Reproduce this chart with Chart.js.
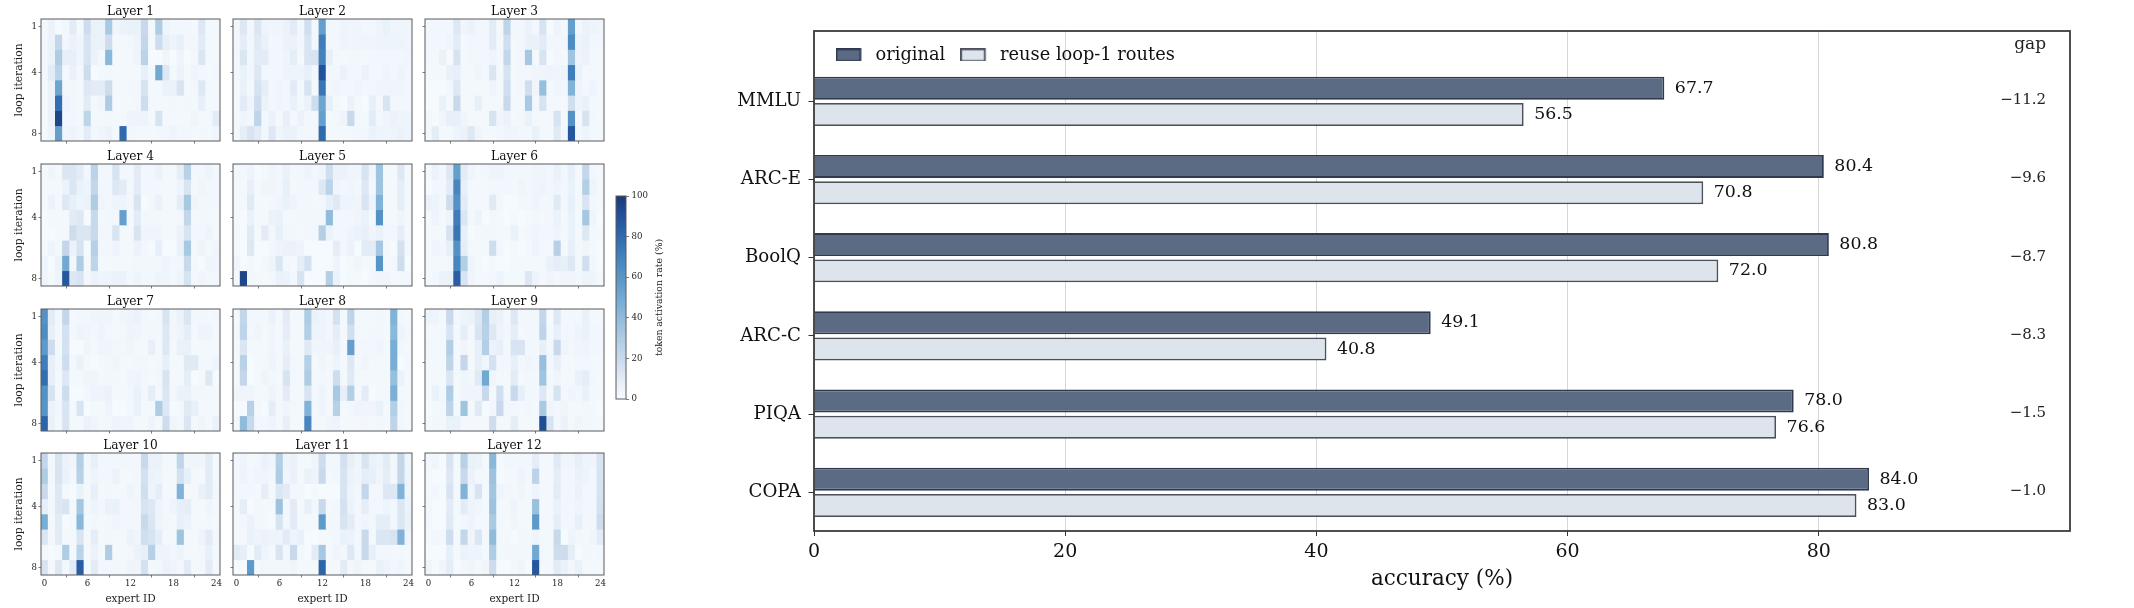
<!DOCTYPE html>
<html><head><meta charset="utf-8">
<style>html,body{margin:0;padding:0;background:#fff;width:2134px;height:608px;overflow:hidden}
canvas{position:absolute;display:block}</style>
<script src="https://cdn.jsdelivr.net/npm/chart.js@4"></script>
</head><body>
<script>
const layer1=[[3,6,1,3,10,2,18,7,6,32,4,6,7,7,20,2,30,5,3,3,3,2,12,2,2],[3,6,22,3,6,4,15,7,6,18,2,2,3,5,22,2,18,8,5,8,3,3,10,2,2],[3,6,30,8,8,4,15,6,3,42,2,2,2,5,25,1,1,4,1,5,1,3,13,2,2],[3,10,25,2,7,2,18,1,2,3,2,2,2,2,8,2,50,12,2,6,2,4,3,2,3],[2,6,52,3,3,2,12,10,10,18,2,2,3,3,15,2,2,6,6,14,2,3,12,2,2],[2,6,78,5,3,2,10,2,4,30,2,2,2,3,18,2,2,2,3,2,3,2,8,2,2],[2,6,95,3,3,2,24,2,2,3,2,2,5,5,5,2,15,2,2,2,2,4,2,3,10],[2,5,55,4,5,3,10,3,4,6,2,80,3,2,2,2,3,3,5,3,3,2,3,2,4]];
const layer2=[[3,12,3,13,5,4,4,6,10,3,17,3,55,3,3,5,4,4,3,3,5,7,4,4,4],[3,9,3,11,7,3,3,6,6,3,14,3,72,3,3,5,4,4,4,4,5,5,5,5,4],[3,13,3,10,10,3,3,5,9,2,14,14,70,8,2,2,3,3,2,3,3,3,3,3,4],[3,7,3,12,3,3,3,5,5,5,8,3,90,3,3,6,3,3,6,3,3,4,3,5,3],[2,7,2,15,9,3,4,3,10,2,15,2,75,3,4,3,3,4,3,3,4,4,4,4,3],[2,10,4,18,6,3,4,3,7,2,6,18,52,8,2,1,6,2,1,8,2,14,3,3,3],[2,4,3,24,3,6,2,8,2,6,3,3,55,2,3,5,20,3,2,10,3,4,6,5,5],[3,9,14,10,3,12,4,6,6,3,3,3,80,2,2,2,2,3,3,6,5,4,5,6,5]];
const layer3=[[3,3,3,3,12,4,6,3,3,10,2,24,3,3,6,3,15,1,5,2,55,3,6,5,4],[3,3,3,4,10,2,3,3,3,10,2,17,2,3,7,7,10,3,3,3,65,5,7,3,3],[3,2,7,1,15,2,3,3,3,5,2,22,2,3,33,2,14,1,3,2,35,5,6,2,2],[2,2,2,7,8,2,2,4,3,13,2,15,2,3,3,4,4,5,4,5,72,7,2,2,2],[1,1,1,3,12,2,2,2,2,5,2,17,2,3,17,4,38,2,4,3,45,5,2,5,2],[1,1,7,2,20,2,2,8,2,2,2,20,2,2,32,3,15,2,2,2,17,5,7,2,2],[3,1,4,8,8,4,2,2,2,15,4,6,2,3,7,2,2,2,15,2,62,2,15,3,2],[2,9,2,2,5,6,12,4,2,2,3,4,4,3,3,7,2,2,11,3,88,3,5,2,2]];
const layer4=[[2,4,2,13,13,10,3,25,3,3,15,3,3,10,3,3,6,2,2,9,26,3,3,5,3],[2,2,2,6,13,7,5,22,3,3,12,10,3,10,3,3,3,2,2,5,14,2,4,3,3],[2,6,2,12,8,5,6,30,4,3,5,5,3,14,1,3,7,2,2,9,32,4,3,3,3],[1,2,2,2,10,12,1,20,2,3,3,55,2,10,3,3,3,2,2,3,22,2,3,2,2],[1,1,2,2,18,13,13,20,3,3,14,2,2,14,4,4,4,2,2,6,14,3,3,5,2],[2,5,2,22,6,15,1,27,3,3,5,2,2,6,3,1,8,1,1,7,32,2,5,2,4],[5,1,6,50,3,30,2,24,2,2,2,2,2,3,3,3,3,5,3,3,20,2,1,4,4],[5,2,5,88,12,14,3,6,5,5,6,6,3,5,3,3,5,4,2,5,15,3,4,3,3]];
const layer5=[[3,3,5,1,2,4,3,7,3,3,5,3,4,17,6,6,4,4,15,4,35,2,2,12,2],[2,2,8,2,4,4,3,8,2,3,3,3,12,25,4,3,4,3,12,3,35,2,2,9,2],[2,2,11,2,2,3,4,7,5,3,3,2,3,8,11,5,5,4,14,5,45,2,2,9,2],[2,1,7,2,2,6,7,2,2,3,3,3,3,40,3,3,3,4,7,2,62,2,2,4,2],[3,1,11,2,10,3,8,3,3,2,3,3,28,6,3,3,5,6,8,4,7,3,3,9,2],[2,1,12,1,1,3,5,6,6,5,1,1,1,1,9,3,6,1,10,10,33,2,1,16,2],[4,1,2,1,2,5,13,3,2,9,16,1,1,1,5,1,2,4,2,2,60,2,3,18,1],[2,95,3,2,2,3,7,6,3,15,1,1,1,28,6,1,2,2,1,3,4,4,2,3,3]];
const layer6=[[2,6,3,12,55,10,4,2,3,5,5,3,3,3,3,4,4,3,7,3,8,2,22,3,2],[1,3,3,10,68,8,2,2,2,3,3,3,2,4,3,4,5,3,5,3,7,2,28,5,2],[6,5,3,18,62,10,2,2,2,11,3,1,1,3,3,5,3,3,11,3,8,2,14,3,2],[2,5,2,5,72,13,2,5,1,3,2,1,2,1,2,3,2,3,6,2,7,2,33,4,1],[2,2,2,15,75,8,1,2,3,3,2,2,7,2,3,4,3,3,5,2,7,2,12,2,2],[2,4,3,8,62,9,2,2,2,18,3,1,2,1,2,5,3,2,27,2,8,2,4,2,1],[2,2,2,3,68,28,5,2,1,2,1,1,2,2,2,2,2,7,9,8,12,2,17,3,1],[2,3,6,7,85,14,4,2,2,3,5,2,2,2,12,5,2,4,3,4,4,3,5,4,2]];
const layer7=[[62,10,3,22,2,3,3,4,4,4,2,4,5,6,3,2,3,14,3,6,13,3,3,2,3],[65,8,2,16,2,5,4,3,5,3,2,3,5,4,3,3,3,12,3,5,9,2,5,5,2],[58,18,2,16,1,1,4,2,4,4,3,3,4,2,2,8,2,12,2,7,7,2,2,2,2],[72,8,3,18,2,6,2,1,2,3,4,2,2,3,3,2,3,8,2,2,11,11,3,2,5],[78,8,2,12,2,2,4,4,2,3,3,2,4,5,3,2,3,14,2,2,9,1,2,12,1],[62,15,2,18,1,1,3,5,5,6,2,2,3,7,3,9,2,13,3,6,7,3,3,2,2],[60,6,3,14,2,14,1,2,2,5,1,1,2,7,2,2,30,12,1,2,11,8,2,2,2],[82,7,2,14,2,2,6,4,2,3,5,4,5,2,2,5,2,18,4,3,13,2,4,2,6]];
const layer8=[[2,22,3,3,3,6,2,10,2,2,30,6,5,3,16,2,24,2,2,2,3,2,45,3,2],[3,24,3,4,2,4,2,9,2,2,28,5,5,3,9,2,17,3,2,3,3,2,42,5,3],[2,13,2,2,2,4,2,7,2,2,11,4,4,4,8,2,55,3,3,3,4,2,48,3,2],[2,26,1,2,2,5,2,9,3,2,27,2,4,2,5,2,12,2,4,2,2,2,48,1,3],[2,22,1,2,5,3,2,15,3,2,30,2,3,2,18,2,11,2,2,2,2,2,38,6,2],[4,4,4,2,2,5,2,10,2,2,14,3,5,2,32,8,28,2,10,1,2,2,47,2,2],[1,1,26,2,1,9,2,4,3,2,45,3,5,2,27,2,3,5,4,4,7,2,28,3,2],[2,40,20,3,3,5,2,8,2,2,68,3,2,4,5,2,2,2,3,2,3,2,24,3,2]];
const layer9=[[5,5,2,20,3,5,6,12,28,8,6,2,12,3,3,3,22,1,12,3,3,3,7,2,2],[2,2,2,14,2,9,3,14,26,12,5,3,9,2,3,3,24,2,8,3,3,5,7,3,3],[3,2,2,28,2,4,2,8,28,6,8,2,14,14,3,3,8,3,20,4,3,4,5,3,3],[2,2,2,24,2,22,2,8,4,16,3,3,8,3,4,3,38,3,8,2,2,3,3,2,2],[2,2,2,13,2,4,3,11,50,4,2,2,10,2,3,3,35,2,4,2,2,7,9,3,2],[2,7,3,30,2,4,4,4,20,2,17,2,20,8,3,3,12,2,15,2,4,3,7,2,2],[1,2,3,24,2,35,2,11,1,3,20,3,3,2,3,2,32,4,3,4,2,2,3,2,1],[2,3,2,7,7,2,2,2,2,18,2,2,9,2,2,2,92,15,3,6,2,4,3,2,2]];
const layer10=[[22,3,14,6,4,28,3,8,3,3,3,3,3,3,20,6,6,2,2,23,4,4,4,10,2],[30,3,14,7,3,26,3,5,3,3,6,2,2,3,16,6,5,2,2,16,8,2,2,10,2],[20,2,12,2,1,7,2,8,2,3,2,2,5,3,17,5,9,2,2,45,2,2,7,10,3],[8,3,12,14,2,33,3,5,3,7,7,3,3,3,14,12,5,2,5,8,9,2,2,4,2],[48,2,10,1,2,42,2,3,2,3,4,3,3,3,20,13,5,3,2,8,6,2,2,3,2],[13,2,10,2,2,14,2,9,2,3,2,2,6,4,17,15,9,2,2,35,2,2,5,10,3],[2,1,2,30,2,25,2,6,2,30,2,2,3,6,8,27,5,5,3,5,2,2,3,8,2],[14,2,12,2,10,85,2,10,3,3,3,3,5,4,16,2,3,6,5,3,10,2,3,10,2]];
const layer11=[[3,5,2,3,6,4,28,5,6,2,2,4,18,3,3,16,8,4,14,7,5,10,3,22,4],[3,5,3,4,4,3,30,4,7,2,7,5,20,2,3,15,6,4,9,8,4,9,3,22,5],[3,3,3,2,9,2,13,10,3,3,1,2,1,1,1,14,5,3,22,3,3,12,12,45,5],[2,9,1,3,2,2,36,3,10,2,8,3,20,2,3,16,6,3,9,3,3,5,3,13,6],[2,3,6,3,2,1,15,3,10,2,2,2,58,3,3,14,10,3,4,3,9,9,3,13,7],[2,2,7,5,6,5,5,10,5,7,1,1,2,2,3,7,6,3,20,2,13,13,14,45,4],[10,8,1,10,5,2,14,3,20,2,1,10,33,2,4,3,12,3,20,8,3,3,2,3,2],[1,1,58,2,3,3,3,3,4,2,2,2,82,2,2,10,3,5,2,2,7,5,3,4,2]];
const layer12=[[3,4,1,14,2,26,7,6,2,42,1,3,3,3,3,9,2,2,11,4,4,8,5,4,14],[2,1,1,12,2,20,6,2,2,36,1,2,2,5,3,25,2,2,9,3,3,6,5,3,14],[2,3,1,14,2,45,4,14,2,34,4,3,2,4,2,5,2,2,10,3,3,6,3,3,15],[3,1,1,10,2,10,5,4,2,36,2,2,5,2,2,37,2,2,7,3,3,4,3,3,16],[3,1,1,11,2,3,5,2,2,31,2,2,4,2,2,58,3,2,9,3,3,8,3,3,18],[2,3,2,18,2,22,4,13,2,40,2,2,1,3,3,5,2,2,20,1,5,3,2,4,10],[1,1,1,8,2,6,5,5,2,30,2,3,3,3,3,50,3,2,18,18,9,1,3,2,3],[4,1,4,9,1,3,4,2,4,18,1,1,3,4,1,88,2,2,10,6,3,7,2,2,2]];
const layers=[layer1,layer2,layer3,layer4,layer5,layer6,layer7,layer8,layer9,layer10,layer11,layer12];
const expertIds=Array.from({length:25},(_,i)=>String(i));
const expertTicks=[0,6,12,18,24];
const iterTicks=[1,4,8];
const cbarTicks=[0,20,40,60,80,100];
const cmapPos=[0,10,20,30,40,50,60,70,80,90,100];
const cmapRgb=[[247,251,255],[227,236,246],[200,217,236],[174,204,227],[144,188,220],[114,169,211],[88,149,199],[68,130,189],[47,105,174],[34,82,154],[26,58,117]];

const categories=['MMLU','ARC-E','BoolQ','ARC-C','PIQA','COPA'];
const originalAcc=[67.7,80.4,80.8,49.1,78.0,84.0];
const reuseAcc=[56.5,70.8,72.0,40.8,76.6,83.0];
const gapVals=[-11.2,-9.6,-8.7,-8.3,-1.5,-1.0];
const accTicks=[0,20,40,60,80];

const FONT='"DejaVu Serif"';
Chart.defaults.font.family=FONT;
Chart.defaults.animation=false;
Chart.defaults.responsive=false;
Chart.defaults.devicePixelRatio=1;

function mapColor(v){
  let i=0; while(i<cmapPos.length-2&&v>cmapPos[i+1])i++;
  const t=(v-cmapPos[i])/(cmapPos[i+1]-cmapPos[i]);
  const c=cmapRgb[i].map((a,k)=>Math.round(a+(cmapRgb[i+1][k]-a)*t));
  return `rgb(${c[0]},${c[1]},${c[2]})`;
}
function mkCanvas(l,t,w,h){
  const c=document.createElement('canvas');
  c.width=w;c.height=h;c.style.left=l+'px';c.style.top=t+'px';c.style.width=w+'px';c.style.height=h+'px';
  document.body.appendChild(c);return c;
}
const frame=(color,lw)=>({id:'frame',afterDraw(ch){const a=ch.chartArea,x=ch.ctx;x.save();x.strokeStyle=color;x.lineWidth=lw;x.strokeRect(a.left,a.top,a.right-a.left,a.bottom-a.top);x.restore();}});

// heatmap panels
const colX=[41,232.5,424.5], rowY=[19,164,309,453];
const PW=179,PH=122,ML=41,MT=15,MR=5,MB=31;
layers.forEach((m,idx)=>{
  const col=idx%3,row=Math.floor(idx/3);
  const left=Math.round(colX[col]-ML),top=rowY[row]-MT;
  const showX=row===3,showY=col===0;
  const datasets=m.map(r=>({data:r.map(()=>1),backgroundColor:r.map(mapColor),borderWidth:0,barPercentage:1,categoryPercentage:1}));
  new Chart(mkCanvas(left,top,ML+PW+MR,MT+PH+MB),{type:'bar',
    data:{labels:expertIds,datasets},
    options:{
      layout:{padding:{left:0,right:MR,top:0,bottom:0}},
      plugins:{legend:{display:false},tooltip:{enabled:false},
        title:{display:true,fullSize:false,text:'Layer '+(idx+1),color:'#111',font:{size:12.2,weight:'normal'},padding:{top:0.36,bottom:0}}},
      scales:{
        x:{stacked:true,grid:{drawOnChartArea:false,drawTicks:true,tickLength:2.5,tickColor:'#444',tickWidth:0.7},border:{display:false},
          afterBuildTicks:s=>{s.ticks=expertTicks.map(v=>({value:v}));},
          afterFit:s=>{s.height=MB;},
          ticks:{autoSkip:false,maxRotation:0,padding:1.5,color:'#222',font:{size:8.6},callback:(v)=>showX?expertIds[v]:''},
          title:{display:showX,text:'expert ID',color:'#222',font:{size:10.5},padding:{top:0,bottom:0}}},
        y:{stacked:true,min:0,max:8,reverse:true,grid:{drawOnChartArea:false,drawTicks:true,tickLength:2.5,tickColor:'#444',tickWidth:0.7},border:{display:false},
          afterBuildTicks:s=>{s.ticks=iterTicks.map(v=>({value:v-0.5}));},
          afterFit:s=>{s.width=ML;},
          ticks:{padding:1.5,color:'#222',font:{size:8.6},callback:v=>showY?String(v+0.5):''},
          title:{display:showY,text:'loop iteration',color:'#222',font:{size:10.7},padding:{top:13,bottom:0}}}
      }},
    plugins:[frame('#5a5a5a',1)]});
});

// colour bar
new Chart(mkCanvas(606,186,90,224),{type:'bar',
  data:{labels:['rate'],datasets:[{data:[100],borderWidth:0,barPercentage:1,categoryPercentage:1,
    backgroundColor:(ctx)=>{const a=ctx.chart.chartArea;if(!a)return '#888';
      const g=ctx.chart.ctx.createLinearGradient(0,a.bottom,0,a.top);
      cmapPos.forEach((p,i)=>g.addColorStop(p/100,mapColor(p)));return g;}}]},
  options:{layout:{padding:{left:10,right:0,top:10,bottom:11}},
    plugins:{legend:{display:false},tooltip:{enabled:false}},
    scales:{x:{display:false},
      y:{position:'right',min:0,max:100,border:{display:false},grid:{drawOnChartArea:false,tickLength:3,tickColor:'#444',tickWidth:0.7},
        afterBuildTicks:s=>{s.ticks=cbarTicks.map(v=>({value:v}));},
        afterFit:s=>{s.width=70;},
        ticks:{padding:2.5,color:'#222',font:{size:8.6}}}}},
  plugins:[frame('#5a5a5a',1),{id:'cbarTitle',afterDraw(ch){const x=ch.ctx,a=ch.chartArea;x.save();x.translate(660-606,(a.top+a.bottom)/2);x.rotate(-Math.PI/2);x.fillStyle='#222';x.font='9.3px '+FONT;x.textAlign='center';x.textBaseline='middle';x.fillText('token activation rate (%)',0,0);x.restore();}}]});

// main bar chart
const rowsIdx=categories.map((_,i)=>i);
const barLabels={id:'barLabels',afterDatasetsDraw(ch){
  const x=ch.ctx,sx=ch.scales.x,sy=ch.scales.y;x.save();x.textBaseline='middle';x.fillStyle='#111';
  x.font='17.4px '+FONT;x.textAlign='left';
  ch.data.datasets.forEach((d,di)=>{ch.getDatasetMeta(di).data.forEach((el,i)=>{x.fillText(d.data[i].x.toFixed(1),el.x+10.5,el.y);});});
  x.font='15px '+FONT;x.fillStyle='#222';x.textAlign='right';
  gapVals.forEach((g,i)=>{x.fillText('\u2212'+Math.abs(g).toFixed(1),sx.getPixelForValue(98.1),sy.getPixelForValue(i)-1);});
  x.font='17px '+FONT;x.fillText('gap',sx.getPixelForValue(98.1),sy.getPixelForValue(-0.73));
  x.restore();
}};
const legendPlace={id:'legendPlace',afterLayout(ch){const l=ch.legend,a=ch.chartArea;l.left=a.left+6.6;l.right=a.right;l.top=a.top;l.bottom=a.bottom;}};
const SWATCH_W=25.5,SWATCH_H=13.5,SWATCH_GAP=5.5;
function legendSwatch(fill,stroke){
  const c=document.createElement('canvas');c.width=SWATCH_W+SWATCH_GAP;c.height=SWATCH_H;
  const x=c.getContext('2d');x.fillStyle=fill;x.fillRect(0,0,SWATCH_W,SWATCH_H);
  x.strokeStyle=stroke;x.lineWidth=1.8;x.strokeRect(0.9,0.9,SWATCH_W-1.8,SWATCH_H-1.8);return c;
}
new Chart(mkCanvas(724,0,1410,608),{type:'bar',
  data:{datasets:[
    {label:'original',data:originalAcc.map((v,i)=>({x:v,y:rowsIdx[i]})),backgroundColor:'#5b6b84',borderColor:'#2f3a50',borderWidth:1.8,categoryPercentage:0.672,barPercentage:0.875},
    {label:'reuse loop-1 routes',data:reuseAcc.map((v,i)=>({x:v,y:rowsIdx[i]})),backgroundColor:'#dde4ec',borderColor:'#4b505c',borderWidth:1.8,categoryPercentage:0.672,barPercentage:0.875}
  ]},
  options:{indexAxis:'y',
    layout:{padding:{left:0,right:64,top:31,bottom:16}},
    plugins:{tooltip:{enabled:false},
      legend:{position:'top',align:'start',fullSize:false,maxHeight:0.001,
        labels:{usePointStyle:true,pointStyleWidth:SWATCH_W+SWATCH_GAP,boxHeight:SWATCH_H,padding:15,color:'#111',font:{size:17.8},
          generateLabels:(ch)=>Chart.defaults.plugins.legend.labels.generateLabels(ch).map((it,i)=>{const d=ch.data.datasets[i];it.pointStyle=legendSwatch(d.backgroundColor,d.borderColor);return it;})}}},
    scales:{
      x:{type:'linear',min:0,max:100,border:{display:false},grid:{color:'#d6d6d6',lineWidth:1,drawTicks:true,tickLength:5,tickColor:'#333',tickWidth:1},
        afterBuildTicks:s=>{s.ticks=accTicks.map(v=>({value:v}));},
        afterFit:s=>{s.height=61;},
        ticks:{padding:5,color:'#111',font:{size:19},maxRotation:0},
        title:{display:true,text:'accuracy (%)',color:'#111',font:{size:21.5},padding:{top:0,bottom:0}}},
      y:{type:'linear',offset:false,min:-0.9,max:5.495,reverse:true,border:{display:false},grid:{offset:false,drawOnChartArea:false,drawTicks:true,tickLength:5.5,tickColor:'#333',tickWidth:1},
        afterBuildTicks:s=>{s.ticks=rowsIdx.map(v=>({value:v}));},
        afterFit:s=>{s.width=90;},
        ticks:{padding:7.5,color:'#111',font:{size:18.2},callback:v=>categories[v]}}
    }},
  plugins:[legendPlace,barLabels,frame('#3c3c3c',1.8)]});
</script>
</body></html>
